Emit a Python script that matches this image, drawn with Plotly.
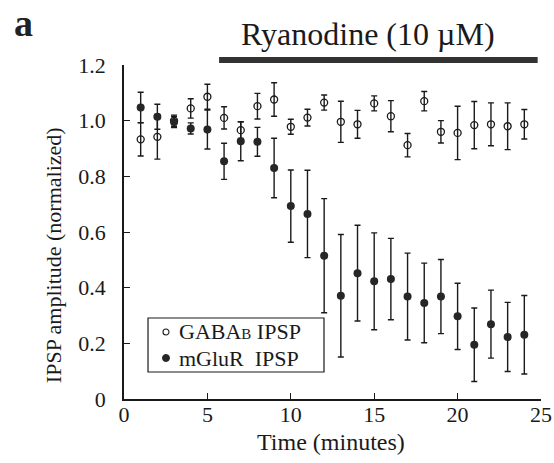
import plotly.graph_objects as go

minutes = list(range(1, 25))
gaba = [0.933, 0.942, 1.0, 1.044, 1.086, 1.010, 0.966, 1.052, 1.076, 0.978, 1.011, 1.065,
        0.996, 0.987, 1.062, 1.016, 0.912, 1.070, 0.960, 0.956, 0.984, 0.987, 0.980, 0.987]
gaba_err = [0.06, 0.08, 0.02, 0.035, 0.045, 0.04, 0.03, 0.046, 0.06, 0.027, 0.03, 0.027,
            0.074, 0.05, 0.027, 0.056, 0.042, 0.035, 0.04, 0.096, 0.085, 0.077, 0.084, 0.053]
mglur = [1.047, 1.014, 0.995, 0.972, 0.968, 0.854, 0.926, 0.924, 0.830, 0.693, 0.665, 0.515,
         0.371, 0.452, 0.423, 0.431, 0.368, 0.345, 0.368, 0.297, 0.195, 0.269, 0.223, 0.231]
mglur_err = [0.055, 0.045, 0.02, 0.02, 0.07, 0.065, 0.07, 0.052, 0.107, 0.13, 0.157, 0.205,
             0.22, 0.172, 0.174, 0.146, 0.156, 0.143, 0.133, 0.119, 0.132, 0.122, 0.124, 0.141]

x_ticks = [0, 5, 10, 15, 20, 25]
y_ticks = [0, 0.2, 0.4, 0.6, 0.8, 1.0, 1.2]
y_tick_labels = ["0", "0.2", "0.4", "0.6", "0.8", "1.0", "1.2"]
drug_start, drug_end = 5.7, 24.8
drug_label = "Ryanodine (10 µM)"
legend_labels = ["GABA<span style='font-size:15px'>B</span> IPSP", "mGluR  IPSP"]

FONT = "Liberation Serif, Times New Roman, serif"
INK = "#1a1a1a"

fig = go.Figure()
fig.add_trace(go.Scatter(
    x=minutes, y=gaba, mode="markers", name="GABAB IPSP",
    marker=dict(symbol="circle-open", size=7, color=INK, line=dict(width=1.3, color=INK)),
    error_y=dict(type="data", array=gaba_err, visible=True, color=INK, thickness=1.4, width=3),
))
fig.add_trace(go.Scatter(
    x=minutes, y=mglur, mode="markers", name="mGluR IPSP",
    marker=dict(symbol="circle", size=8, color="#262626"),
    error_y=dict(type="data", array=mglur_err, visible=True, color=INK, thickness=1.4, width=3),
))

# drug application bar and label
fig.add_shape(type="line", xref="x", yref="paper", x0=drug_start, x1=drug_end,
              y0=1.015, y1=1.015, line=dict(color="#333", width=6))
fig.add_annotation(text=drug_label, xref="x", yref="paper", x=(drug_start + drug_end) / 2 - 0.6,
                   y=1.092, showarrow=False, font=dict(size=32, family=FONT, color=INK),
                   xanchor="center", yanchor="middle")
# panel letter
fig.add_annotation(text="<b>a</b>", xref="paper", yref="paper", x=-0.242, y=1.1946,
                   showarrow=False, font=dict(size=38, family=FONT, color="#222"),
                   xanchor="center", yanchor="top")
# axis titles
fig.add_annotation(text="IPSP amplitude (normalized)", xref="paper", yref="paper",
                   x=-0.170, y=0.431, textangle=-90, showarrow=False,
                   font=dict(size=22, family=FONT, color=INK), xanchor="center", yanchor="middle")
fig.add_annotation(text="Time (minutes)", xref="paper", yref="paper", x=0.496, y=-0.128,
                   showarrow=False, font=dict(size=24, family=FONT, color=INK),
                   xanchor="center", yanchor="middle")

# manual legend box
fig.add_shape(type="rect", xref="paper", yref="paper", x0=0.0576, x1=0.4796, y0=0.0808, y1=0.2425,
              line=dict(color=INK, width=1.2), fillcolor="white", layer="above")
leg_mid = 0.1617
fig.add_shape(type="circle", xref="paper", yref="paper", xsizemode="pixel", ysizemode="pixel",
              xanchor=0.1007, yanchor=leg_mid, x0=-3, x1=3, y0=10, y1=16,
              line=dict(color=INK, width=1.1), fillcolor="white", layer="above")
fig.add_shape(type="circle", xref="paper", yref="paper", xsizemode="pixel", ysizemode="pixel",
              xanchor=0.1007, yanchor=leg_mid, x0=-3.5, x1=3.5, y0=-16.5, y1=-9.5,
              line=dict(color="#262626", width=1), fillcolor="#262626", layer="above")
for lbl, anchor in zip(legend_labels, ["bottom", "top"]):
    fig.add_annotation(text=lbl, xref="paper", yref="paper", x=0.1295, y=leg_mid,
                       showarrow=False, font=dict(size=22, family=FONT, color=INK),
                       xanchor="left", yanchor=anchor, borderpad=0)

fig.update_layout(
    width=554, height=463,
    margin=dict(l=124, r=13, t=65, b=64, autoexpand=False),
    paper_bgcolor="white", plot_bgcolor="white",
    font=dict(family=FONT, color=INK, size=22),
    showlegend=False,
)
fig.update_xaxes(range=[0, 25], tickvals=x_ticks, ticks="inside", ticklen=6, tickwidth=1.2,
                 tickcolor=INK, showline=True, linecolor=INK, linewidth=1.5, showgrid=False,
                 zeroline=False, automargin=False, ticklabelstandoff=-5,
                 tickfont=dict(size=22, family=FONT, color=INK))
fig.update_yaxes(range=[0, 1.2], tickvals=y_ticks, ticktext=y_tick_labels, ticks="inside",
                 ticklen=6, tickwidth=1.2, tickcolor=INK, showline=True, linecolor=INK,
                 linewidth=1.5, showgrid=False, zeroline=False, ticklabelstandoff=12,
                 automargin=False, tickfont=dict(size=22, family=FONT, color=INK))

fig.write_html("out.html")
